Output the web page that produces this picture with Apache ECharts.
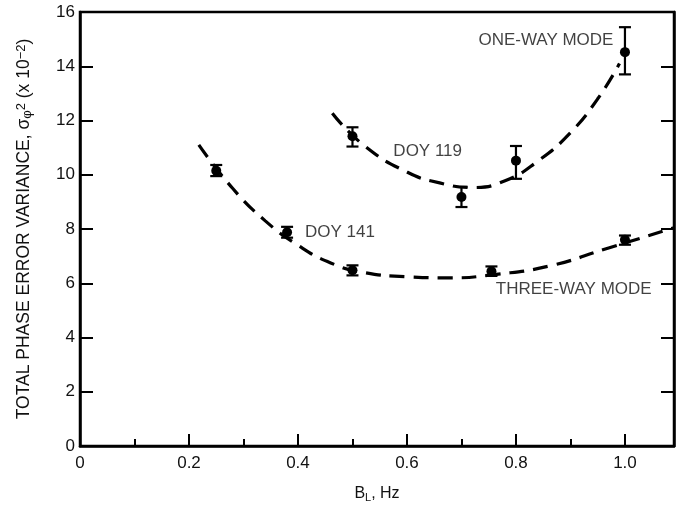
<!DOCTYPE html>
<html>
<head>
<meta charset="utf-8">
<script src="https://cdn.jsdelivr.net/npm/echarts@6/dist/echarts.min.js"></script>
<style>html,body{margin:0;padding:0;background:#fff;}#c{width:686px;height:510px;}</style>
</head>
<body>
<div id="c"></div>
<script>
// ---- data ----
var xTicks = [0, 0.2, 0.4, 0.6, 0.8, 1.0];
var yTicks = [0, 2, 4, 6, 8, 10, 12, 14, 16];
// measured points: [B_L, variance, lower, upper]
var oneWayPoints = [[0.5, 11.42, 11.04, 11.75], [0.7, 9.18, 8.81, 9.55], [0.8, 10.52, 9.85, 11.06], [1.0, 14.52, 13.7, 15.44]];
var threeWayPoints = [[0.25, 10.15, 9.95, 10.36], [0.38, 7.88, 7.68, 8.08], [0.5, 6.48, 6.29, 6.66], [0.755, 6.44, 6.27, 6.62], [1.0, 7.6, 7.42, 7.76]];
// dashed fitted curves
var oneWayCurve = [[0.463, 12.27], [0.52, 11.1], [0.6, 10.1], [0.66, 9.7], [0.72, 9.53], [0.78, 9.78], [0.84, 10.5], [0.9, 11.55], [0.95, 12.8], [0.99, 14.1]];
var threeWayCurve = [[0.218, 11.1], [0.28, 9.5], [0.34, 8.3], [0.4, 7.4], [0.46, 6.75], [0.52, 6.4], [0.6, 6.24], [0.68, 6.2], [0.76, 6.32], [0.86, 6.63], [0.97, 7.3], [1.089, 8.04]];
// annotation labels: [x, y, text]
var annotations = [[0.855, 14.97, 'ONE-WAY MODE'], [0.638, 10.86, 'DOY 119'], [0.477, 7.89, 'DOY 141'], [0.906, 5.77, 'THREE-WAY MODE']];

var FONT = '"Liberation Sans", Arial, Helvetica, sans-serif';
var chart = echarts.init(document.getElementById('c'), null, {renderer: 'canvas'});

function errRender(params, api) {
  var x = api.value(0), lo = api.value(2), hi = api.value(3), v = api.value(1);
  var pLo = api.coord([x, lo]), pHi = api.coord([x, hi]), pV = api.coord([x, v]);
  var cap = 6;
  var st = {stroke: '#000', lineWidth: 2.2};
  return {
    type: 'group',
    children: [
      {type: 'line', shape: {x1: pLo[0], y1: pLo[1], x2: pHi[0], y2: pHi[1]}, style: st},
      {type: 'line', shape: {x1: pLo[0] - cap, y1: pLo[1], x2: pLo[0] + cap, y2: pLo[1]}, style: st},
      {type: 'line', shape: {x1: pHi[0] - cap, y1: pHi[1], x2: pHi[0] + cap, y2: pHi[1]}, style: st},
      {type: 'circle', shape: {cx: pV[0], cy: pV[1], r: 5}, style: {fill: '#000'}}
    ]
  };
}

var option = {
  animation: false,
  backgroundColor: '#fff',
  grid: {left: 80, right: 12, top: 12, bottom: 64, show: true, borderColor: '#000', borderWidth: 2.5, backgroundColor: 'transparent'},
  xAxis: {
    type: 'value', min: 0, max: 1.09, interval: 0.2,
    axisLine: {show: true, lineStyle: {color: '#000', width: 2.5}},
    axisTick: {show: true, inside: true, length: 12, lineStyle: {color: '#000', width: 2}},
    minorTick: {show: true, splitNumber: 2, length: 7, lineStyle: {color: '#000', width: 2}},
    splitLine: {show: false},
    axisLabel: {color: '#111', fontFamily: FONT, fontSize: 17, margin: 9, showMaxLabel: false,
      formatter: function (v) { return v === 0 ? '0' : v.toFixed(1); }},
    name: 'B{sub|L}, Hz', nameLocation: 'middle', nameGap: 38,
    nameTextStyle: {color: '#111', fontFamily: FONT, fontSize: 16,
      rich: {sub: {fontSize: 11, verticalAlign: 'bottom', padding: [8, 0, 0, 0], fontFamily: FONT, color: '#111'}}}
  },
  yAxis: [{
    type: 'value', min: 0, max: 16, interval: 2,
    axisLine: {show: true, lineStyle: {color: '#000', width: 2.5}},
    axisTick: {show: true, inside: true, length: 13, lineStyle: {color: '#000', width: 2}},
    splitLine: {show: false},
    axisLabel: {color: '#111', fontFamily: FONT, fontSize: 17, margin: 5},
    name: 'TOTAL PHASE ERROR VARIANCE, σ{sub|φ}{sup|2} (x 10{sup|−2})',
    nameLocation: 'middle', nameGap: 46, nameRotate: 90,
    nameTextStyle: {color: '#111', fontFamily: FONT, fontSize: 17.5,
      rich: {sub: {fontSize: 13, verticalAlign: 'bottom', padding: [6, 0, 0, 0], fontFamily: FONT, color: '#111'},
             sup: {fontSize: 13, verticalAlign: 'top', padding: [0, 0, 6, 0], fontFamily: FONT, color: '#111'}}}
  }, {
    type: 'value', min: 0, max: 16, interval: 2, position: 'right',
    axisLine: {show: true, lineStyle: {color: '#000', width: 2.5}},
    axisTick: {show: true, inside: true, length: 13, lineStyle: {color: '#000', width: 2}},
    axisLabel: {show: false}, splitLine: {show: false}
  }],
  series: [
    {type: 'line', data: oneWayCurve, smooth: 0.5, showSymbol: false, symbol: 'none',
      lineStyle: {color: '#000', width: 3.2, type: [15, 9]}, z: 2},
    {type: 'line', data: threeWayCurve, smooth: 0.5, showSymbol: false, symbol: 'none',
      lineStyle: {color: '#000', width: 3.2, type: [15, 9]}, z: 2},
    {type: 'custom', renderItem: errRender, data: oneWayPoints, z: 3},
    {type: 'custom', renderItem: errRender, data: threeWayPoints, z: 3},
    {type: 'scatter', symbolSize: 0, z: 4, silent: true,
      data: annotations.map(function (a) { return {value: [a[0], a[1]], name: a[2]}; }),
      label: {show: true, position: 'inside', formatter: function (p) { return p.name; },
        color: '#111', fontFamily: FONT, fontSize: 17}}
  ]
};
chart.setOption(option);
</script>
</body>
</html>
